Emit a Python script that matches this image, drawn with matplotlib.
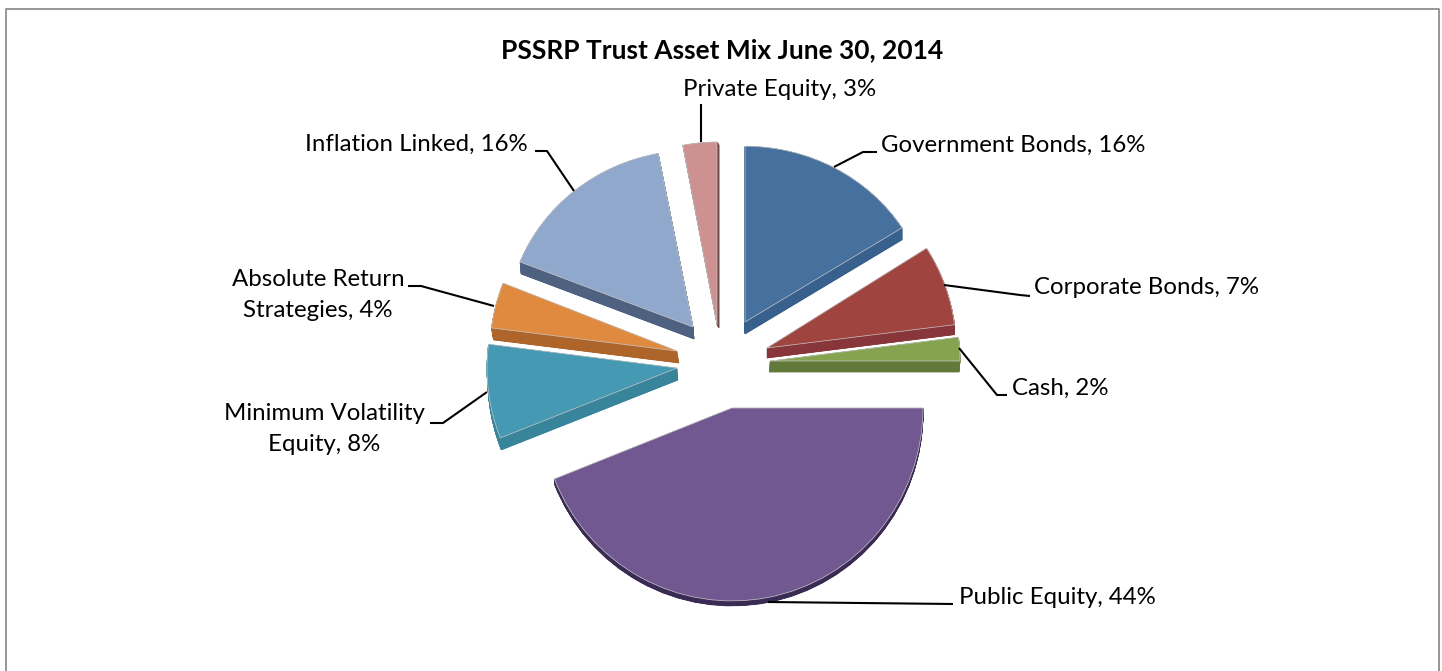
import matplotlib
matplotlib.use("Agg")
import matplotlib.pyplot as plt
from matplotlib.patches import Wedge
from matplotlib.transforms import Affine2D

# Data
categories = ["Government Bonds", "Corporate Bonds", "Cash", "Public Equity",
              "Minimum Volatility\nEquity", "Absolute Return\nStrategies",
              "Inflation Linked", "Private Equity"]
shares = [16, 7, 2, 44, 8, 4, 16, 3]
title_text = "PSSRP Trust Asset Mix June 30, 2014"

# Style
top_colors = ["#46719f", "#a0443f", "#86a44f", "#715891", "#4699b2", "#df8a3f", "#91a8cd", "#cd9191"]
side_colors = ["#38608c", "#88363a", "#617a3a", "#3a2b55", "#38859b", "#ad652a", "#4f6180", "#6e4a4a"]

W, H = 1442, 671
def fy(py):
    return H - py

# Layout in reference pixels: apex, radius, vertical squash, depth offset
apex = [(745, 322), (767, 348), (770, 361), (732, 408), (677, 368), (677, 351), (693, 327), (717, 325)]
radii = [186, 189, 190, 191, 190, 187, 186, 183]
squash = [0.945, 0.985, 1.0, 1.01, 1.0, 0.985, 0.95, 1.0]
depth = [(0, 12), (0, 10), (-1, 11), (0, 5), (1, 12), (2, 12), (1, 12), (2, 3)]

label_style = dict(fontsize=17.3, family="Lato", color="black", linespacing=1.6)
labels = [
    (881, 145, "left", "center"), (1034, 288, "left", "center"), (1012, 388, "left", "center"),
    (959, 597, "left", "center"), (324, 429, "center", "center"), (318, 295, "center", "center"),
    (528, 144, "right", "center"), (780, 89, "center", "center"),
]
leaders = [
    [(877, 152), (863, 152), (834, 167)],
    [(1030, 296), (1020, 295), (944, 285)],
    [(1007, 395), (997, 395), (959, 348)],
    [(953, 604), (768, 602)],
    [(430, 423), (443, 423), (487, 392)],
    [(408, 286), (421, 286), (494, 306)],
    [(535, 151), (547, 151), (574, 191)],
    [(701, 104), (701, 142)],
]

fig = plt.figure(figsize=(W / 100, H / 100), dpi=100, facecolor="white")
ax = fig.add_axes([0, 0, 1, 1])

wedges, _ = ax.pie(shares, startangle=90, counterclock=False, colors=top_colors,
                   wedgeprops=dict(linewidth=0, zorder=3))

ax.set_aspect("equal")
ax.set_xlim(0, W)
ax.set_ylim(0, H)
ax.axis("off")

def squashed(cx, cy, s):
    return Affine2D().translate(-cx, -cy).scale(1, s).translate(cx, cy) + ax.transData

for w, (ax_x, ax_y), r, s, (dx, dy), side in zip(wedges, apex, radii, squash, depth, side_colors):
    w.set_center((ax_x, fy(ax_y)))
    w.set_radius(r)
    w.set_transform(squashed(ax_x, fy(ax_y), s))
    w.set_edgecolor("#c8c8c8")
    w.set_linewidth(0.5)
    steps = max(abs(dy), 1) * 4
    for k in range(1, steps + 1):
        cx, cy = ax_x + dx * k / steps, fy(ax_y + dy * k / steps)
        ax.add_patch(Wedge((cx, cy), r, w.theta1, w.theta2, facecolor=side, edgecolor=side,
                           linewidth=0.5, zorder=2, transform=squashed(cx, cy, s)))

# Open-bottomed frame
ax.plot([5.5, 5.5, 1438.5, 1438.5], [0, fy(9), fy(9), 0], color="#8e8e8e", lw=1.3, zorder=1)

for pts in leaders:
    ax.plot([p[0] for p in pts], [fy(p[1]) for p in pts], color="black", lw=1.5, zorder=4,
            solid_joinstyle="round", solid_capstyle="butt")

for cat, val, (x, y, ha, va) in zip(categories, shares, labels):
    ax.text(x, fy(y), f"{cat}, {val}%", ha=ha, va=va, multialignment="center", **label_style)

ax.text(722, fy(50), title_text, ha="center", va="center", fontsize=19, family="Lato",
        fontweight="bold", color="black")

fig.savefig("out.png", dpi=100, facecolor="white")
